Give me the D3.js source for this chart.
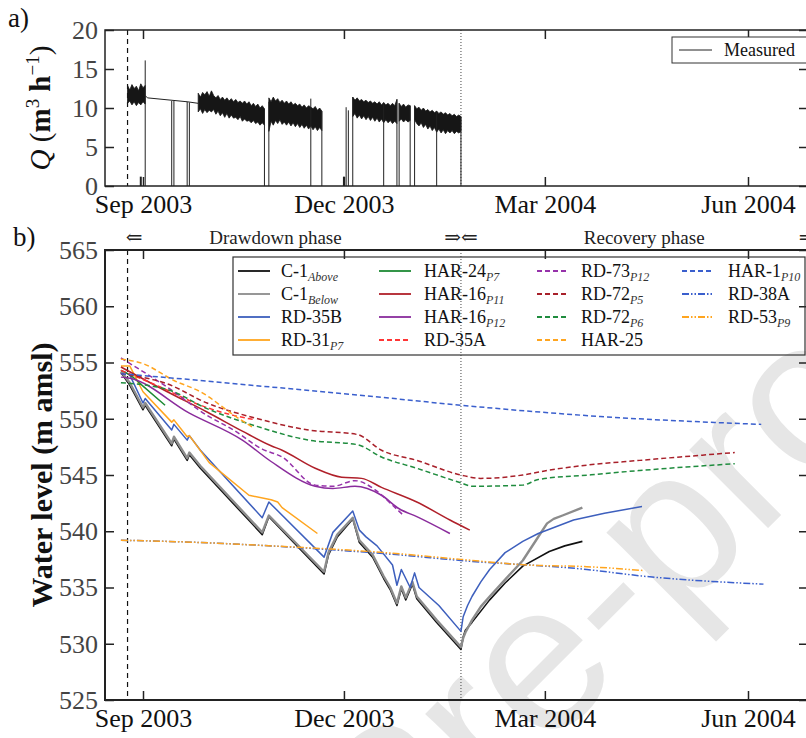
<!DOCTYPE html>
<html>
<head>
<meta charset="utf-8">
<script src="https://cdn.jsdelivr.net/npm/d3@7"></script>
<style>
  body { margin: 0; background: #fff; }
  svg { display: block; font-family: "Liberation Serif", "DejaVu Serif", serif; }
</style>
</head>
<body>
<div id="chart"></div>
<script>
// ---- tick labels / markers ----
const xTickDates = ["2003-09-01", "2003-12-01", "2004-03-01", "2004-06-01"];
const qTicks = [0, 5, 10, 15, 20];
const levelTicks = [525, 530, 535, 540, 545, 550, 555, 560, 565];
const drawdownStart = "2003-08-25";
const recoveryStart = "2004-01-23";

// ---- panel a: measured pumping rate ----
// noisy stretches: [date, high, low]
const qBand1 = [["2003-08-25",12.9,10.6],["2003-08-26",12.3,10.9],["2003-08-27",13.0,10.4],["2003-08-28",12.5,10.8],
  ["2003-08-29",12.8,10.3],["2003-08-30",12.2,10.7],["2003-08-31",13.1,10.4],["2003-09-01",12.6,10.8],["2003-09-02",12.9,10.5]];
const qBand2 = [["2003-09-26",11.9,9.5],["2003-09-27",11.4,9.9],["2003-09-28",12.0,9.3],["2003-09-29",11.7,9.8],
  ["2003-09-30",12.1,9.4],["2003-10-01",11.5,9.7],["2003-10-02",12.2,9.5],["2003-10-03",11.6,9.8],["2003-10-04",11.3,9.2],
  ["2003-10-05",11.6,9.6],["2003-10-06",11.1,9.0],["2003-10-07",11.4,9.4],["2003-10-08",11.0,8.8],["2003-10-09",11.3,9.3],
  ["2003-10-10",10.9,8.7],["2003-10-11",11.2,9.1],["2003-10-12",10.8,8.7],["2003-10-13",11.1,8.8],["2003-10-14",10.7,8.5],
  ["2003-10-15",10.9,8.9],["2003-10-16",10.6,8.3],["2003-10-17",10.9,8.6],["2003-10-18",10.5,8.3],["2003-10-19",10.8,8.4],
  ["2003-10-20",10.3,8.1],["2003-10-21",10.6,8.4],["2003-10-22",10.2,8.0],["2003-10-23",10.5,8.2],["2003-10-24",10.0,7.8],
  ["2003-10-25",10.3,8.1],["2003-10-26",9.9,7.8]];
const qBand3 = [["2003-10-28",11.3,7.0],["2003-10-29",10.8,8.3],["2003-10-30",11.4,7.8],["2003-10-31",10.9,8.4],
  ["2003-11-01",11.2,8.0],["2003-11-02",10.7,8.5],["2003-11-03",11.0,7.9],["2003-11-04",10.6,8.2],["2003-11-05",10.9,7.8],
  ["2003-11-06",10.5,8.2],["2003-11-07",10.8,7.7],["2003-11-08",10.4,8.1],["2003-11-09",10.6,7.6],["2003-11-10",10.3,8.0],
  ["2003-11-11",10.5,7.5],["2003-11-12",10.1,7.9],["2003-11-13",10.4,7.4],["2003-11-14",10.0,7.8],["2003-11-15",10.3,7.3],
  ["2003-11-16",10.1,7.7],["2003-11-17",9.9,7.2],["2003-11-18",10.2,7.6],["2003-11-19",9.7,7.1],["2003-11-20",10.0,7.5],
  ["2003-11-21",9.6,7.1]];
const qBand4 = [["2003-12-05",11.4,8.9],["2003-12-06",11.0,9.3],["2003-12-07",11.3,8.7],["2003-12-08",10.9,9.1],
  ["2003-12-09",11.1,8.6],["2003-12-10",10.8,9.0],["2003-12-11",11.0,8.5],["2003-12-12",10.7,8.9],["2003-12-13",10.9,8.4],
  ["2003-12-14",10.6,8.8],["2003-12-15",10.8,8.3],["2003-12-16",10.5,8.7],["2003-12-17",10.8,8.2],["2003-12-18",10.4,8.6],
  ["2003-12-19",10.7,8.1],["2003-12-20",10.4,8.5],["2003-12-21",10.6,8.1],["2003-12-22",10.3,8.4],["2003-12-23",10.6,8.0],
  ["2003-12-24",10.3,8.3],["2003-12-25",11.1,8.0]];
const qBand5 = [["2003-12-26",10.6,8.3],["2003-12-27",10.2,8.6],["2003-12-28",10.5,8.2],["2003-12-29",10.1,8.5],
  ["2003-12-30",10.4,8.2],["2003-12-31",10.3,8.4]];
const qBand6 = [["2004-01-02",10.3,8.5],["2004-01-03",9.9,8.0],["2004-01-04",10.1,7.7],["2004-01-05",9.7,8.1],
  ["2004-01-06",10.0,7.5],["2004-01-07",9.6,7.9],["2004-01-08",9.8,7.3],["2004-01-09",9.5,7.7],["2004-01-10",9.7,7.1],
  ["2004-01-11",9.4,7.5],["2004-01-12",9.6,6.9],["2004-01-13",9.3,7.3],["2004-01-14",9.5,6.8],["2004-01-15",9.2,7.2],
  ["2004-01-16",9.4,6.7],["2004-01-17",9.1,7.1],["2004-01-18",9.3,6.8],["2004-01-19",9.0,7.1],["2004-01-20",9.2,6.7],
  ["2004-01-21",8.9,7.0],["2004-01-22",9.1,6.8],["2004-01-23",8.9,7.0]];
// quiet stretch between first two noisy blocks
const qThin = [["2003-09-02",11.6],["2003-09-03",11.3],["2003-09-21",10.8],["2003-09-26",10.6]];
// pump stops: vertical drops to zero [date, top]
const qDrops = [["2003-08-31",1.2],["2003-09-02",16.1],["2003-09-14",10.9],["2003-09-15",10.9],["2003-09-21",10.8],
  ["2003-09-22",10.7],["2003-10-26",9.9],["2003-10-28",10.8],["2003-11-16",11.2],["2003-11-21",9.6],["2003-12-01",1.2],
  ["2003-12-02",10.1],["2003-12-03",9.7],["2003-12-05",11.4],["2003-12-19",10.7],["2003-12-25",11.1],["2003-12-26",10.6],
  ["2003-12-31",10.3],["2004-01-02",10.3],["2004-01-12",9.6],["2004-01-23",8.9]];

// ---- panel b: water levels (m amsl) ----
const c1Above = [["2003-08-22",554.1],["2003-08-26",553.0],["2003-09-01",550.8],["2003-09-02",551.2],["2003-09-14",547.6],
  ["2003-09-15",548.2],["2003-09-21",546.3],["2003-09-22",546.8],["2003-09-27",545.6],["2003-10-25",539.7],["2003-10-28",541.3],
  ["2003-11-22",536.2],["2003-11-24",537.9],["2003-11-28",539.5],["2003-12-05",541.1],["2003-12-08",539.0],["2003-12-14",537.7],
  ["2003-12-19",535.8],["2003-12-22",534.8],["2003-12-25",533.4],["2003-12-27",534.9],["2003-12-29",533.9],["2004-01-01",535.3],
  ["2004-01-03",534.0],["2004-01-12",531.9],["2004-01-23",529.5],["2004-01-24",530.6],["2004-01-25",531.2],["2004-01-28",531.9],
  ["2004-02-01",532.9],["2004-02-05",533.9],["2004-02-12",535.4],["2004-02-20",536.9],["2004-03-03",538.2],["2004-03-10",538.7],
  ["2004-03-18",539.1]];
const c1Below = [["2003-08-22",554.2],["2003-08-26",553.2],["2003-09-01",551.0],["2003-09-02",551.4],["2003-09-14",547.8],
  ["2003-09-15",548.4],["2003-09-21",546.5],["2003-09-22",547.0],["2003-09-27",545.8],["2003-10-25",539.9],["2003-10-28",541.4],
  ["2003-11-22",536.4],["2003-11-24",538.1],["2003-11-28",539.7],["2003-12-05",541.2],["2003-12-08",539.2],["2003-12-14",537.9],
  ["2003-12-19",536.0],["2003-12-22",535.0],["2003-12-25",533.6],["2003-12-27",535.1],["2003-12-29",534.1],["2004-01-01",535.5],
  ["2004-01-03",534.2],["2004-01-12",532.1],["2004-01-23",529.7],["2004-01-24",530.5],["2004-01-25",531.0],["2004-01-28",532.1],
  ["2004-02-01",533.3],["2004-02-05",534.2],["2004-02-12",535.7],["2004-02-20",537.4],["2004-02-26",539.2],["2004-03-02",540.7],
  ["2004-03-05",541.1],["2004-03-09",541.4],["2004-03-18",542.1]];
const rd35b = [["2003-08-22",554.3],["2003-08-26",553.9],["2003-09-01",551.4],["2003-09-02",551.8],["2003-09-14",549.0],
  ["2003-09-15",549.5],["2003-09-21",548.1],["2003-09-22",548.5],["2003-09-27",547.2],["2003-10-25",541.2],["2003-10-28",542.6],
  ["2003-11-22",537.7],["2003-11-26",539.9],["2003-12-05",541.8],["2003-12-08",540.1],["2003-12-11",539.5],["2003-12-16",538.7],
  ["2003-12-23",537.0],["2003-12-25",535.2],["2003-12-27",536.6],["2003-12-31",535.0],["2004-01-02",536.3],["2004-01-04",535.0],
  ["2004-01-13",533.4],["2004-01-23",531.1],["2004-01-24",532.4],["2004-01-26",533.4],["2004-01-28",534.2],["2004-02-01",535.5],
  ["2004-02-05",536.6],["2004-02-12",538.1],["2004-02-20",539.1],["2004-02-27",539.8],["2004-03-14",541.0],["2004-03-28",541.6],
  ["2004-04-14",542.2]];
const rd31 = [["2003-08-22",554.7],["2003-08-26",554.7],["2003-09-01",552.4],["2003-09-14",549.7],["2003-09-15",549.9],
  ["2003-09-21",548.4],["2003-09-22",548.5],["2003-10-01",546.1],["2003-10-19",543.2],["2003-10-29",542.8],["2003-11-01",542.6],
  ["2003-11-03",542.1],["2003-11-19",539.8]];
const har24 = [["2003-08-22",554.3],["2003-08-26",553.9],["2003-09-01",552.9],["2003-09-11",551.2]];
const har16p11 = [["2003-08-22",554.6],["2003-09-12",552.4],["2003-09-30",550.6],["2003-10-16",548.9],["2003-10-29",547.6],
  ["2003-11-03",547.2],["2003-11-18",545.6],["2003-11-30",544.8],["2003-12-09",544.7],["2003-12-18",543.9],["2004-01-03",542.6],
  ["2004-01-18",541.0],["2004-01-27",540.1]];
const har16p12 = [["2003-08-22",553.7],["2003-08-26",553.6],["2003-09-22",550.5],["2003-10-16",548.1],["2003-10-29",546.2],
  ["2003-11-18",544.0],["2003-11-26",543.8],["2003-12-06",544.0],["2003-12-18",543.2],["2003-12-26",542.0],["2004-01-03",541.3],
  ["2004-01-18",539.8]];
const rd35a = [["2003-08-22",554.3],["2003-09-08",552.9],["2003-09-27",551.2],["2003-10-12",550.3],["2003-10-22",549.9]];
const rd73 = [["2003-08-22",555.4],["2003-09-12",552.8],["2003-09-30",550.3],["2003-10-12",549.0],["2003-10-25",547.3],
  ["2003-11-03",546.6],["2003-11-18",544.1],["2003-11-26",544.0],["2003-12-06",544.5],["2003-12-15",543.7],["2003-12-22",542.5],
  ["2003-12-28",541.4]];
const rd72p5 = [["2003-08-22",554.0],["2003-09-12",553.1],["2003-09-30",551.4],["2003-10-23",550.0],["2003-11-15",549.0],
  ["2003-12-07",548.6],["2003-12-18",547.2],["2004-01-03",546.3],["2004-01-23",545.0],["2004-02-01",544.7],["2004-02-20",545.0],
  ["2004-03-02",545.4],["2004-03-21",545.9],["2004-04-13",546.3],["2004-05-26",547.0]];
const rd72p6 = [["2003-08-22",553.2],["2003-09-12",552.6],["2003-09-30",550.9],["2003-10-23",549.3],["2003-11-15",548.1],
  ["2003-12-07",547.7],["2003-12-18",546.6],["2004-01-03",545.6],["2004-01-23",544.3],["2004-01-28",544.0],["2004-02-20",544.1],
  ["2004-02-27",544.6],["2004-03-21",545.0],["2004-04-13",545.4],["2004-05-26",546.0]];
const har25 = [["2003-08-22",555.3],["2003-09-01",554.9],["2003-09-15",553.4],["2003-09-27",552.4],["2003-10-13",550.2],
  ["2003-10-21",549.2]];
const har1 = [["2003-08-22",554.0],["2003-09-27",553.4],["2003-10-19",553.0],["2003-12-08",552.1],["2004-01-23",551.2],
  ["2004-03-26",550.2],["2004-06-07",549.5]];
const rd38a = [["2003-08-22",539.2],["2003-09-27",539.0],["2003-10-19",538.8],["2003-12-26",537.9],["2004-01-23",537.4],
  ["2004-03-20",536.6],["2004-04-15",536.0],["2004-06-08",535.3]];
const rd53 = [["2003-08-22",539.2],["2003-09-27",539.0],["2003-10-19",538.8],["2003-12-26",538.0],["2004-01-23",537.5],
  ["2004-02-22",537.0],["2004-03-20",536.85],["2004-04-15",536.5]];

// ---- series table (legend order, column by column) ----
const dashed = "5,3", dashDot = "7,2,1.5,2,1.5,2";
const series = [
  { name: "C-1", sub: "Above", data: c1Above, color: "#111", width: 1.6, sharp: true },
  { name: "C-1", sub: "Below", data: c1Below, color: "#8c8c8c", width: 2.4, sharp: true },
  { name: "RD-35B", sub: "", data: rd35b, color: "#3d5fbd", width: 1.5, sharp: true },
  { name: "RD-31", sub: "P7", data: rd31, color: "#ffa51f", width: 1.5, sharp: true },
  { name: "HAR-24", sub: "P7", data: har24, color: "#1d8a34", width: 1.5 },
  { name: "HAR-16", sub: "P11", data: har16p11, color: "#b0202a", width: 1.5 },
  { name: "HAR-16", sub: "P12", data: har16p12, color: "#8a2c9c", width: 1.5 },
  { name: "RD-35A", sub: "", data: rd35a, color: "#ff3535", width: 1.5, dash: dashed },
  { name: "RD-73", sub: "P12", data: rd73, color: "#9632aa", width: 1.5, dash: dashed },
  { name: "RD-72", sub: "P5", data: rd72p5, color: "#a8202a", width: 1.5, dash: dashed },
  { name: "RD-72", sub: "P6", data: rd72p6, color: "#1f8c3e", width: 1.5, dash: dashed },
  { name: "HAR-25", sub: "", data: har25, color: "#ffa51f", width: 1.5, dash: dashed },
  { name: "HAR-1", sub: "P10", data: har1, color: "#3a5fcd", width: 1.5, dash: dashed },
  { name: "RD-38A", sub: "", data: rd38a, color: "#3a5fcd", width: 1.5, dash: dashDot },
  { name: "RD-53", sub: "P9", data: rd53, color: "#ffa51f", width: 1.5, dash: dashDot }
];

const parse = d3.timeParse("%Y-%m-%d");
const W = 806, H = 738;
const left = 105, right = 808;

let svg = d3.select("#chart").append("svg")
  .attr("width", W).attr("height", H);

// time scale: Sep 2003 .. Jun 2004 ticks, frame runs a bit past both ends
let xBase = d3.scaleTime()
  .domain([parse("2003-09-01"), parse("2004-06-01")])
  .range([143, 748]);
let x = d3.scaleTime()
  .domain([xBase.invert(left), xBase.invert(right)])
  .range([left, right]);

let yA = d3.scaleLinear().domain([0, 20]).range([186, 30]);
let yB = d3.scaleLinear().domain([525, 565]).range([700, 250]);

// watermark behind everything
svg.append("text")
  .attr("transform", "translate(440,856) rotate(-45)")
  .attr("text-anchor", "middle")
  .style("font-family", "'Liberation Sans', Arial, sans-serif")
  .style("font-size", "210px")
  .style("fill", "#e6e6e6")
  .text("Journal Pre-proof");

const xTicks = xTickDates.map(parse);

function frameAxes(y, ticks, top, bottom, frameW) {
  let g = svg.append("g");
  g.append("rect")
    .attr("x", left).attr("y", top)
    .attr("width", right - left).attr("height", bottom - top)
    .attr("fill", "none").attr("stroke", "#222").attr("stroke-width", frameW);

  let bottomAx = g.append("g").attr("transform", "translate(0," + bottom + ")")
    .call(d3.axisBottom(x).tickValues(xTicks).tickFormat(d3.timeFormat("%b %Y"))
      .tickSizeInner(-9).tickSizeOuter(0).tickPadding(9));
  let topAx = g.append("g").attr("transform", "translate(0," + top + ")")
    .call(d3.axisTop(x).tickValues(xTicks).tickFormat("").tickSizeInner(-9).tickSizeOuter(0));
  let leftAx = g.append("g").attr("transform", "translate(" + left + ",0)")
    .call(d3.axisLeft(y).tickValues(ticks).tickSizeInner(-9).tickSizeOuter(0).tickPadding(7));
  let rightAx = g.append("g").attr("transform", "translate(" + right + ",0)")
    .call(d3.axisRight(y).tickValues(ticks).tickFormat("").tickSizeInner(-9).tickSizeOuter(0));

  [bottomAx, topAx, leftAx, rightAx].forEach(a => {
    a.select(".domain").remove();
    a.attr("font-family", null).attr("font-size", null);
    a.selectAll(".tick line").attr("stroke", "#222").attr("stroke-width", 1.5);
  });
  bottomAx.selectAll("text").style("font-size", "26px").style("fill", "#111");
  leftAx.selectAll("text").style("font-size", "26px").style("fill", "#444");
}

// phase marker lines
function phaseLines(top, bottom) {
  svg.append("line")
    .attr("x1", x(parse(drawdownStart))).attr("x2", x(parse(drawdownStart)))
    .attr("y1", top).attr("y2", bottom)
    .attr("stroke", "#111").attr("stroke-width", 1.2).attr("stroke-dasharray", "5,4");
  svg.append("line")
    .attr("x1", x(parse(recoveryStart))).attr("x2", x(parse(recoveryStart)))
    .attr("y1", top).attr("y2", bottom)
    .attr("stroke", "#444").attr("stroke-width", 1).attr("stroke-dasharray", "1,2");
}

// ===== panel a =====
phaseLines(30, 186);

let area = d3.area()
  .x(d => x(parse(d[0])))
  .y0(d => yA(d[2]))
  .y1(d => yA(d[1]));
svg.selectAll("qBands")
  .data([qBand1, qBand2, qBand3, qBand4, qBand5, qBand6])
  .enter()
  .append("path")
  .attr("d", d => area(d))
  .attr("fill", "#161616")
  .attr("stroke", "#161616")
  .attr("stroke-width", 0.8);

let qLine = d3.line()
  .x(d => x(parse(d[0])))
  .y(d => yA(d[1]));
svg.append("path")
  .attr("d", qLine(qThin))
  .attr("fill", "none").attr("stroke", "#222").attr("stroke-width", 1);

svg.selectAll("qDrops")
  .data(qDrops)
  .enter()
  .append("line")
  .attr("x1", d => x(parse(d[0]))).attr("x2", d => x(parse(d[0])))
  .attr("y1", d => yA(d[1])).attr("y2", yA(0))
  .attr("stroke", "#222")
  .attr("stroke-width", d => d[1] < 2 ? 2 : 1);

frameAxes(yA, qTicks, 30, 186, 1.5);

// legend a
svg.append("rect").attr("x", 672).attr("y", 37).attr("width", 140).attr("height", 26)
  .attr("fill", "#fff").attr("stroke", "#333").attr("stroke-width", 1);
svg.append("line").attr("x1", 679).attr("x2", 712).attr("y1", 50).attr("y2", 50)
  .attr("stroke", "#222").attr("stroke-width", 1);
svg.append("text").attr("x", 724).attr("y", 56).style("font-size", "18px").style("fill", "#111").text("Measured");

// y label a
let qLabel = svg.append("text")
  .attr("transform", "translate(50,108) rotate(-90)")
  .attr("text-anchor", "middle")
  .style("font-size", "29px").style("fill", "#111");
qLabel.append("tspan").style("font-style", "italic").text("Q");
qLabel.append("tspan").text(" (");
qLabel.append("tspan").style("font-weight", "bold").text("m");
qLabel.append("tspan").attr("dy", -11).style("font-size", "19px").text("3");
qLabel.append("tspan").attr("dy", 11).text(" ");
qLabel.append("tspan").style("font-weight", "bold").text("h");
qLabel.append("tspan").attr("dy", -11).style("font-size", "19px").text("\u22121");
qLabel.append("tspan").attr("dy", 11).text(")");

svg.append("text").attr("x", 8).attr("y", 27).style("font-size", "27px").style("fill", "#111").text("a)");

// ===== panel b =====
phaseLines(250, 700);

let smooth = d3.line()
  .x(d => x(parse(d[0])))
  .y(d => yB(d[1]))
  .curve(d3.curveMonotoneX);
let sharp = d3.line()
  .x(d => x(parse(d[0])))
  .y(d => yB(d[1]));

svg.selectAll("levelLines")
  .data(series)
  .enter()
  .append("path")
  .attr("d", d => d.sharp ? sharp(d.data) : smooth(d.data))
  .attr("fill", "none")
  .attr("stroke", d => d.color)
  .attr("stroke-width", d => d.width)
  .attr("stroke-dasharray", d => d.dash || null)
  .attr("stroke-linejoin", "round");

frameAxes(yB, levelTicks, 250, 700, 2);

// phase annotations above panel b
const phaseText = [
  { date: "2003-08-28", text: "\u21d0", anchor: "middle", size: 20 },
  { date: "2003-10-31", text: "Drawdown phase", anchor: "middle", size: 19 },
  { date: recoveryStart, text: "\u21d2\u21d0", anchor: "middle", size: 20 },
  { date: "2004-04-15", text: "Recovery phase", anchor: "middle", size: 19 },
  { date: "2004-06-24", text: "\u21d2", anchor: "start", size: 20 }
];
svg.selectAll("phaseText")
  .data(phaseText)
  .enter()
  .append("text")
  .attr("x", d => x(parse(d.date)))
  .attr("y", 244)
  .attr("text-anchor", d => d.anchor)
  .style("font-size", d => d.size + "px")
  .style("fill", "#222")
  .text(d => d.text);

// legend b
svg.append("rect").attr("x", 233).attr("y", 257).attr("width", 572).attr("height", 98)
  .attr("fill", "none").attr("stroke", "#333").attr("stroke-width", 1.2);
const colLine = [238, 379, 537, 682], colText = [281, 424, 581, 728];
const rowY = [271, 294, 317, 340];
let items = svg.selectAll("legendItems")
  .data(series)
  .enter()
  .append("g")
  .attr("transform", (d, i) => "translate(0," + rowY[i % 4] + ")");
items.append("line")
  .attr("x1", (d, i) => colLine[Math.floor(i / 4)])
  .attr("x2", (d, i) => colLine[Math.floor(i / 4)] + 32)
  .attr("stroke", d => d.color)
  .attr("stroke-width", 1.8)
  .attr("stroke-dasharray", d => d.dash || null);
let labels = items.append("text")
  .attr("x", (d, i) => colText[Math.floor(i / 4)])
  .attr("y", 6)
  .style("font-size", "18px")
  .style("fill", "#111");
labels.append("tspan").text(d => d.name);
labels.append("tspan")
  .attr("dy", 4)
  .style("font-size", "12px").style("font-style", "italic").style("fill", "#333")
  .text(d => d.sub);

// y label b
svg.append("text")
  .attr("transform", "translate(52,475) rotate(-90)")
  .attr("text-anchor", "middle")
  .style("font-size", "30px").style("font-weight", "bold").style("fill", "#111")
  .text("Water level (m amsl)");

svg.append("text").attr("x", 13).attr("y", 246).style("font-size", "27px").style("fill", "#111").text("b)");
</script>
</body>
</html>
